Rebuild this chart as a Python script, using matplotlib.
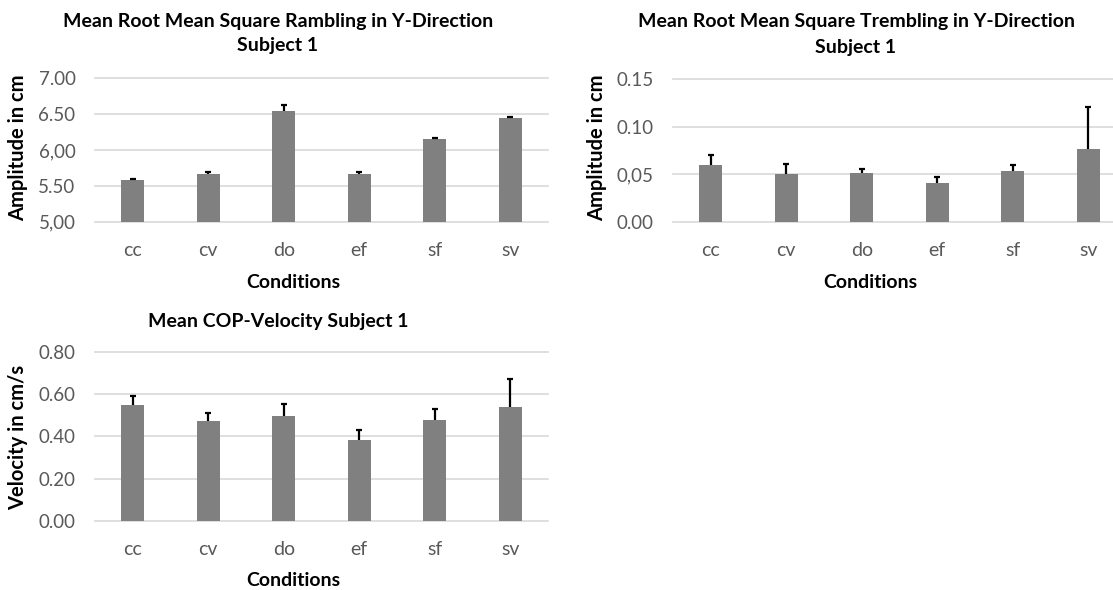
import matplotlib
matplotlib.use("Agg")
import matplotlib.pyplot as plt
import numpy as np

plt.rcParams["font.family"] = ["Lato", "DejaVu Sans"]

# ---- data ----
conditions = ["cc", "cv", "do", "ef", "sf", "sv"]

rambling_mean = [5.58, 5.66, 6.55, 5.66, 6.15, 6.45]
rambling_err = [0.02, 0.03, 0.08, 0.03, 0.02, 0.015]
rambling_ticks = [5.0, 5.5, 6.0, 6.5, 7.0]
rambling_ticklabels = ["5,00", "5.50", "6,00", "6.50", "7.00"]

trembling_mean = [0.060, 0.0505, 0.051, 0.0403, 0.0533, 0.0764]
trembling_err = [0.010, 0.010, 0.0047, 0.0063, 0.0067, 0.0442]
trembling_ticks = [0.00, 0.05, 0.10, 0.15]
trembling_ticklabels = ["0.00", "0,05", "0.10", "0.15"]

velocity_mean = [0.550, 0.473, 0.496, 0.383, 0.476, 0.538]
velocity_err = [0.040, 0.039, 0.057, 0.045, 0.052, 0.136]
velocity_ticks = [0.0, 0.2, 0.4, 0.6, 0.8]
velocity_ticklabels = ["0.00", "0.20", "0.40", "0.60", "0.80"]

# ---- layout (pixels) ----
W, H = 1113, 590
DPI = 100
fig = plt.figure(figsize=(W / DPI, H / DPI), dpi=DPI)
fig.patch.set_facecolor("white")

BAR_COLOR = "#808080"
GRID_COLOR = "#d9d9d9"
TICK_COLOR = "#595959"


def px_rect(left, top, right, bottom):
    return [left / W, 1 - bottom / H, (right - left) / W, (bottom - top) / H]


def px_text(x, y, s, **kw):
    fig.text(x / W, 1 - y / H, s, **kw)


def bar_panel(rect, means, errs, ticks, ticklabels):
    ax = fig.add_axes(px_rect(*rect))
    x = np.arange(len(conditions))
    ax.bar(x, means, width=0.31, color=BAR_COLOR, zorder=2)
    _, caps, _ = ax.errorbar(x, means, yerr=[np.zeros(len(errs)), errs],
                             fmt="none", ecolor="black", elinewidth=1.6,
                             capsize=2.5, capthick=1.6, zorder=3)
    caps[0].set_visible(False)
    ax.set_xlim(-0.5, len(conditions) - 0.5)
    ax.set_ylim(ticks[0], ticks[-1])
    ax.set_yticks(ticks)
    ax.set_yticklabels(ticklabels)
    ax.set_xticks(x)
    ax.set_xticklabels(conditions)
    ax.tick_params(axis="both", length=0, colors=TICK_COLOR)
    ax.tick_params(axis="y", pad=14, labelsize=13.5)
    ax.tick_params(axis="x", pad=14.5, labelsize=14)
    for s in ax.spines.values():
        s.set_visible(False)
    ax.yaxis.grid(True, color=GRID_COLOR, linewidth=1.2, zorder=0)
    ax.set_axisbelow(True)
    for gl in ax.get_ygridlines():
        gl.set_clip_on(False)
    return ax


bold = dict(fontsize=14, fontweight="bold", color="black", ha="center", va="center")
ylab = dict(fontsize=14.5, fontweight="bold", color="black", ha="center",
            va="center", rotation=90)

# Panel 1: rambling
bar_panel((95, 78.3, 548, 221.7), rambling_mean, rambling_err,
          rambling_ticks, rambling_ticklabels)
px_text(278, 22, "Mean Root Mean Square Rambling in Y-Direction", **bold)
px_text(278, 46, "Subject 1", **bold)
px_text(293, 283, "Conditions", **bold)
px_text(18, 148, "Amplitude in cm", **ylab)

# Panel 2: trembling
bar_panel((673, 79.3, 1126, 221.7), trembling_mean, trembling_err,
          trembling_ticks, trembling_ticklabels)
px_text(856, 22, "Mean Root Mean Square Trembling in Y-Direction", **bold)
px_text(856, 47, "Subject 1", **bold)
px_text(870, 283, "Conditions", **bold)
px_text(597, 148, "Amplitude in cm", **ylab)

# Panel 3: COP velocity
bar_panel((95, 352, 548, 520.7), velocity_mean, velocity_err,
          velocity_ticks, velocity_ticklabels)
px_text(278, 322, "Mean COP-Velocity Subject 1", **bold)
px_text(293, 581, "Conditions", **bold)
px_text(18, 437, "Velocity in cm/s", **ylab)

fig.savefig("out.png", dpi=DPI)
